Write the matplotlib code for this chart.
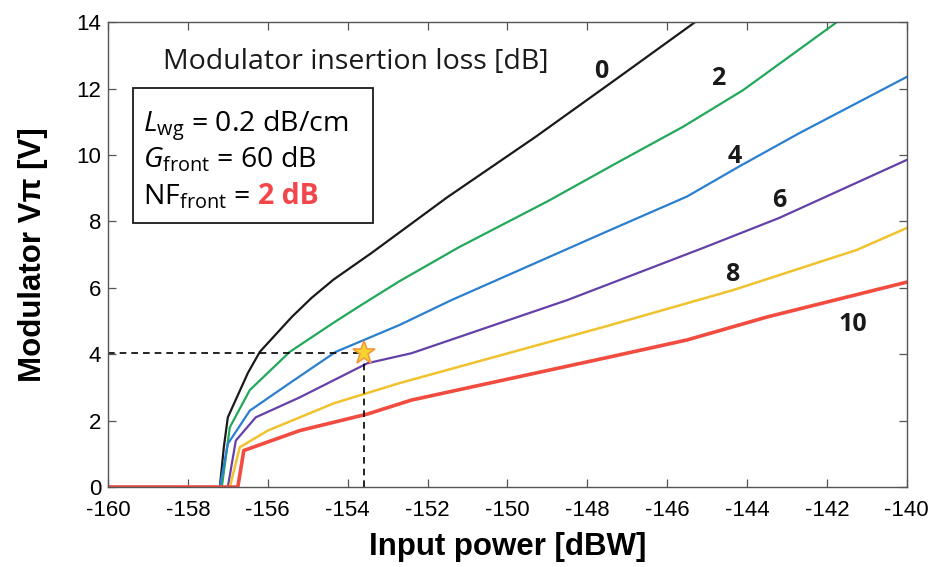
import matplotlib
matplotlib.use('Agg')
import matplotlib.pyplot as plt
from matplotlib.patches import Rectangle

# curve data: input power [dBW] vs modulator Vpi [V]
loss_labels = ['0', '2', '4', '6', '8', '10']

x_il0 = [-160, -157.2, -157.1, -157.0, -156.5, -156.2, -155.4, -154.9, -154.35, -153.4, -151.5, -149.3, -147.2, -145.3, -145.0]
y_il0 = [0, 0, 1.2, 2.1, 3.43, 4.07, 5.12, 5.7, 6.25, 7.05, 8.73, 10.54, 12.35, 14.0, 14.3]

x_il2 = [-160, -157.15, -156.95, -156.45, -155.45, -154.35, -153.7, -152.7, -151.2, -149.0, -147.2, -145.6, -144.1, -141.75, -141.5]
y_il2 = [0, 0, 1.8, 2.92, 4.07, 4.95, 5.45, 6.2, 7.23, 8.6, 9.8, 10.85, 11.95, 14.0, 14.2]

x_il4 = [-160, -157.2, -157.0, -156.45, -155.45, -154.3, -152.7, -151.4, -147.5, -145.5, -144.2, -142.7, -140.0]
y_il4 = [0, 0, 1.3, 2.3, 3.13, 4.07, 4.88, 5.63, 7.7, 8.75, 9.65, 10.65, 12.35]

x_il6 = [-160, -157.0, -156.8, -156.3, -155.2, -153.5, -152.4, -148.5, -145.1, -143.2, -140.0]
y_il6 = [0, 0, 1.4, 2.1, 2.7, 3.73, 4.03, 5.63, 7.2, 8.1, 9.85]

x_il8 = [-160, -156.95, -156.7, -156.0, -154.35, -152.7, -147.5, -144.35, -141.25, -140.0]
y_il8 = [0, 0, 1.2, 1.7, 2.52, 3.13, 4.85, 5.93, 7.14, 7.8]

x_il10 = [-160, -156.75, -156.6, -155.2, -153.5, -152.4, -147.5, -145.5, -143.5, -140.0]
y_il10 = [0, 0, 1.1, 1.7, 2.2, 2.62, 3.9, 4.43, 5.12, 6.17]

# where the labels of the curves sit
label_x = [-147.66, -144.73, -144.3, -143.18, -144.36, -141.35]
label_y = [12.5, 12.29, 9.94, 8.64, 6.39, 4.88]

star_x, star_y = -153.6, 4.05
x_ticks = list(range(-160, -139, 2))
y_ticks = list(range(0, 15, 2))

colors = ['#1a1a1a', '#22a85a', '#2b7fd0', '#6441a8', '#f0c22e', '#f24b3f']
widths = [1.6, 1.6, 1.6, 1.6, 1.8, 2.6]

note_font = 'Open Sans'
plt.rcParams['axes.unicode_minus'] = False
plt.rcParams['mathtext.fontset'] = 'custom'
plt.rcParams['mathtext.rm'] = note_font
plt.rcParams['mathtext.it'] = note_font + ':italic'

fig = plt.figure(figsize=(9.32, 5.67), dpi=100)
ax = fig.add_axes([0.1159, 0.141, 0.857, 0.820])

xs = [x_il0, x_il2, x_il4, x_il6, x_il8, x_il10]
ys = [y_il0, y_il2, y_il4, y_il6, y_il8, y_il10]
for xx, yy, c, w in zip(xs, ys, colors, widths):
    ax.plot(xx, yy, color=c, lw=w, solid_joinstyle='round')

# operating point
ax.plot([-160, star_x], [star_y, star_y], color='black', lw=1.2, dashes=(4, 3))
ax.plot([star_x, star_x], [0, star_y], color='black', lw=1.2, dashes=(4, 3))
ax.plot([star_x], [star_y], marker='*', ms=17, mfc='#f7d530', mec='#f39a3a', mew=1.2)

for lab, lx, ly in zip(loss_labels, label_x, label_y):
    ax.text(lx, ly, lab, fontsize=18, fontweight='bold', family=note_font,
            ha='center', va='center', color='#1a1a1a')

ax.text(-158.62, 12.8, 'Modulator insertion loss [dB]', fontsize=20.5,
        family=note_font, ha='left', va='center', color='#1a1a1a')

ax.add_patch(Rectangle((-159.37, 7.95), 6.0, 4.07, fill=True, fc='white',
                       ec='#1a1a1a', lw=1.3, zorder=3))
ax.text(-159.12, 10.72, r'$L_{\mathrm{wg}}$ = 0.2 dB/cm', fontsize=20.5,
        family=note_font, ha='left', va='baseline', zorder=4)
ax.text(-159.12, 9.62, r'$G_{\mathrm{front}}$ = 60 dB', fontsize=20.5,
        family=note_font, ha='left', va='baseline', zorder=4)
t1 = ax.text(-159.12, 8.52, r'NF$_{\mathrm{front}}$ =', fontsize=20.5,
             family=note_font, ha='left', va='baseline', zorder=4)
ax.annotate('2 dB', xy=(1, 8.52), xycoords=(t1, 'data'), xytext=(5, 0),
            textcoords='offset points', fontsize=20.5, family=note_font,
            fontweight='bold', color='#f2474a', ha='left', va='baseline', zorder=4)

ax.set_xlim(-160, -140)
ax.set_ylim(0, 14)
ax.set_xticks(x_ticks)
ax.set_yticks(y_ticks)
ax.tick_params(direction='in', top=True, right=True, length=6, width=0.9,
               color='#555555', labelsize=16)
ax.tick_params(axis='x', pad=9)
ax.tick_params(axis='y', pad=5)
for lbl in ax.get_xticklabels() + ax.get_yticklabels():
    lbl.set_family('Liberation Sans')
for s in ax.spines.values():
    s.set_color('#555555')
    s.set_linewidth(1.0)

ax.set_xlabel('Input power [dBW]', fontsize=22.5, fontweight='bold', family='Liberation Sans', labelpad=8)
ax.set_ylabel('Modulator Vπ [V]', fontsize=22.5, fontweight='bold', family='Liberation Sans', labelpad=20)

fig.savefig('out.png', dpi=100)
